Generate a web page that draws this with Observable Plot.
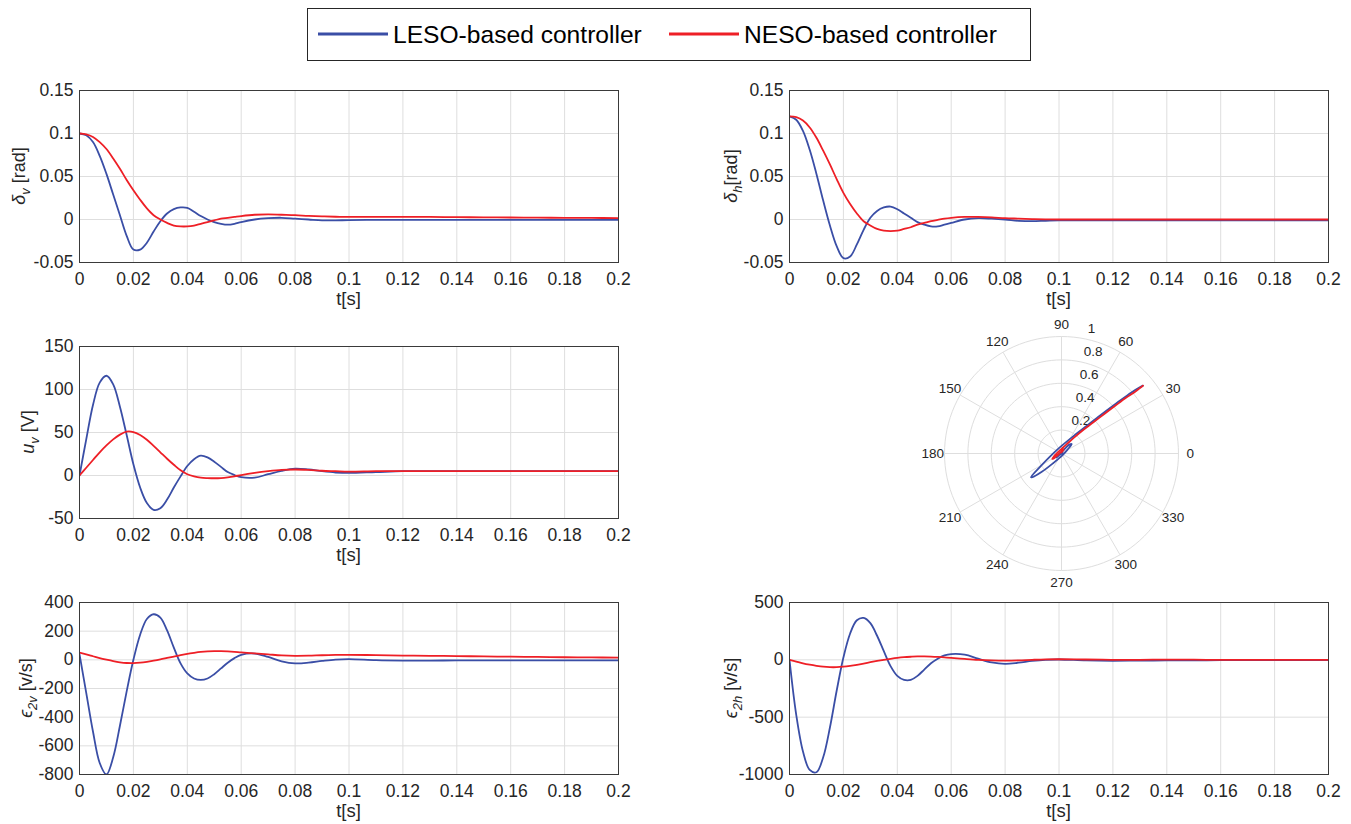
<!DOCTYPE html>
<html><head><meta charset="utf-8">
<script src="https://cdn.jsdelivr.net/npm/d3@7"></script>
<script src="https://cdn.jsdelivr.net/npm/@observablehq/plot@0.6"></script>
<style>
html,body{margin:0;padding:0;background:#fff;}
#root{position:relative;width:1351px;height:824px;overflow:hidden;font-family:"Liberation Sans",Arial,Helvetica,sans-serif;}
#root > *{position:absolute;}
</style></head><body><div id="root"></div>
<script>
// ---------- data ----------
const T = [0, 0.0025, 0.005, 0.0075, 0.01, 0.0125, 0.015, 0.0175, 0.02, 0.0225, 0.025, 0.0275, 0.03,
  0.0325, 0.035, 0.0375, 0.04, 0.0425, 0.045, 0.0475, 0.05, 0.0525, 0.055, 0.0575, 0.06,
  0.065, 0.07, 0.075, 0.08, 0.085, 0.09, 0.095, 0.1,
  0.11, 0.12, 0.13, 0.14, 0.15, 0.16, 0.17, 0.18, 0.19, 0.2];
const xTicks = [0, 0.02, 0.04, 0.06, 0.08, 0.1, 0.12, 0.14, 0.16, 0.18, 0.2];
const seriesNames = ["LESO-based controller", "NESO-based controller"];

// delta_v [rad]
const dvL = [0.1, 0.098, 0.09, 0.074, 0.053, 0.029, 0.005, -0.019, -0.035, -0.035, -0.027, -0.014, -0.002,
  0.007, 0.012, 0.014, 0.0135, 0.009, 0.004, 0.000, -0.003, -0.005, -0.006, -0.005, -0.003,
  0.000, 0.0015, 0.002, 0.001, 0.000, -0.001, -0.001, -0.0007,
  -0.0005, -0.0005, -0.0005, -0.0005, -0.0005, -0.0005, -0.0005, -0.0005, -0.0005, -0.0005];
const dvN = [0.1, 0.099, 0.096, 0.09, 0.082, 0.071, 0.059, 0.046, 0.034, 0.023, 0.013, 0.005, 0.000,
  -0.004, -0.007, -0.008, -0.008, -0.007, -0.005, -0.003, -0.001, 0.001, 0.002, 0.003, 0.004,
  0.0055, 0.006, 0.0055, 0.005, 0.0042, 0.0036, 0.0032, 0.003,
  0.003, 0.003, 0.003, 0.0027, 0.0025, 0.0023, 0.0021, 0.002, 0.0018, 0.0016];
const dvTicks = [-0.05, 0, 0.05, 0.1, 0.15];

// delta_h [rad]
const dhL = [0.12, 0.116, 0.103, 0.081, 0.053, 0.022, -0.007, -0.031, -0.045, -0.043, -0.029, -0.012, 0.002,
  0.010, 0.014, 0.015, 0.012, 0.007, 0.002, -0.003, -0.006, -0.008, -0.008, -0.006, -0.004,
  0.000, 0.0015, 0.001, 0.000, -0.0015, -0.002, -0.0015, -0.001,
  -0.001, -0.001, -0.001, -0.001, -0.001, -0.001, -0.001, -0.001, -0.001, -0.001];
const dhN = [0.12, 0.119, 0.115, 0.107, 0.095, 0.08, 0.064, 0.047, 0.031, 0.018, 0.007, -0.002, -0.007,
  -0.011, -0.013, -0.0135, -0.013, -0.011, -0.009, -0.006, -0.004, -0.002, -0.0005, 0.001, 0.002,
  0.003, 0.003, 0.0025, 0.0015, 0.001, 0.0005, 0.0002, 0,
  0, 0, 0, 0, 0, 0, 0, 0, 0, 0];
const dhTicks = [-0.05, 0, 0.05, 0.1, 0.15];

// u_v [V]
const uL = [0, 42, 82, 108, 116, 106, 80, 47, 13, -14, -32, -40, -38,
  -28, -14, -1, 11, 19, 23, 21, 16, 10, 4, 0.5, -2,
  -2.5, 1.5, 5.5, 8, 7, 5, 3.5, 3,
  4, 5, 5, 5, 5, 5, 5, 5, 5, 5];
const uN = [0, 9, 18, 27, 35, 42, 47.5, 51, 50.5, 47, 41.5, 34.5, 27,
  19.5, 12.5, 6, 1.5, -1, -2.5, -3, -3.2, -3, -2.2, -1, 0.5,
  3, 5, 6.5, 7, 6.5, 5.5, 5, 4.5,
  5, 5, 5, 5, 5, 5, 5, 5, 5, 5];
const uTicks = [-50, 0, 50, 100, 150];

// epsilon_2v [v/s]
const e2vL = [40, -230, -500, -720, -800, -680, -460, -220, 0, 175, 285, 318, 295,
  205, 85, -25, -95, -130, -140, -130, -100, -60, -20, 12, 35,
  44, 20, -10, -25, -20, -8, 2, 5,
  -2, -5, -5, -4, -4, -4, -4, -4, -4, -4];
const e2vN = [50, 38, 25, 12, 1, -9, -17, -22, -23, -20, -14, -6, 3,
  13, 23, 33, 42, 49, 55, 59, 61, 61, 59, 56, 52,
  45, 38, 31, 28, 29, 32, 34, 35,
  33, 30, 28, 26, 24, 22, 20, 18, 17, 15];
const e2vTicks = [-800, -600, -400, -200, 0, 200, 400];

// epsilon_2h [v/s]
const e2hL = [0, -480, -800, -960, -980, -850, -590, -270, 20, 230, 345, 365, 320,
  210, 75, -55, -140, -175, -175, -140, -85, -30, 10, 38, 50,
  45, 10, -22, -35, -25, -10, 0, 3,
  -5, -8, -7, -5, -4, -3, -3, -3, -3, -3];
const e2hN = [0, -15, -30, -42, -52, -60, -64, -64, -60, -53, -44, -33, -21,
  -10, 0, 9, 17, 23, 27, 30, 30, 28, 25, 21, 17,
  8, 0, -5, -7, -5, 0, 4, 5,
  3, 0, 0, 2, 1, 0, 0, 0, 0, 0];
const e2hTicks = [-1000, -500, 0, 500];

// polar panel: (delta_h, delta_v) phase trajectory, radial unit factor
const polarUnit = 5.8;
const polarRings = [0.2, 0.4, 0.6, 0.8, 1];
const polarAngles = [0, 30, 60, 90, 120, 150, 180, 210, 240, 270, 300, 330];

// ---------- drawing ----------
const root = document.getElementById("root");
const FONT = '"Liberation Sans", Arial, Helvetica, sans-serif';
const INK = "#262626";
const BLUE = "#3a4ea6", RED = "#ee1f26";
const GRID = "#dedede";

const series = vals => T.map((t, i) => ({t, v: vals[i]}));

function addYLabel(svg, x, y, parts) {
  const g = d3.select(svg).append("text")
    .attr("transform", `translate(${x},${y}) rotate(-90)`)
    .attr("text-anchor", "middle")
    .attr("font-family", FONT)
    .attr("font-size", 18)
    .attr("fill", INK);
  for (const [txt, kind] of parts) {
    const s = g.append("tspan").text(txt);
    if (kind === "i") s.attr("font-style", "italic");
    if (kind === "sub") s.attr("font-size", 13).attr("font-style", "italic").attr("dy", 5);
    if (kind === "up") s.attr("dy", -5);
  }
}

function panel({left, width, frameLeft, frameRight, frameTop, yDomain, yTicks, L, N, ylabel, labelX}) {
  const mt = 16, mb = 58, fh = 172;
  const height = mt + fh + mb;
  const ml = frameLeft - left, mr = width - (frameRight - left);
  const fmt = d => String(d);
  const p = Plot.plot({
    width, height, marginLeft: ml, marginRight: mr, marginTop: mt, marginBottom: mb,
    style: {fontFamily: FONT, fontSize: "17.5px", color: INK, background: "transparent", overflow: "visible"},
    x: {domain: [0, 0.2]},
    y: {domain: yDomain},
    marks: [
      Plot.gridX(xTicks, {stroke: GRID, strokeOpacity: 1}),
      Plot.gridY(yTicks, {stroke: GRID, strokeOpacity: 1}),
      Plot.axisX(xTicks, {tickSize: 0, tickPadding: 10, tickFormat: fmt, label: null, fontSize: 17.5}),
      Plot.axisY(yTicks, {tickSize: 0, tickPadding: 6, tickFormat: fmt, label: null, fontSize: 17.5}),
      Plot.line(series(L), {x: "t", y: "v", stroke: BLUE, strokeWidth: 1.8, curve: "catmull-rom", clip: true}),
      Plot.line(series(N), {x: "t", y: "v", stroke: RED, strokeWidth: 1.8, curve: "catmull-rom", clip: true}),
      Plot.frame({stroke: "#3a3a3a", strokeWidth: 1})
    ]
  });
  p.style.left = left + "px";
  p.style.top = (frameTop - mt) + "px";
  root.appendChild(p);
  d3.select(p).append("text")
    .attr("x", ml + (frameRight - frameLeft) / 2)
    .attr("y", mt + fh + 43)
    .attr("text-anchor", "middle")
    .attr("font-family", FONT).attr("font-size", 18.5).attr("fill", INK)
    .text("t[s]");
  addYLabel(p, labelX - left, mt + fh / 2, ylabel);
}

// Legend
(function legend() {
  const w = 724, h = 53;
  const svg = d3.create("svg").attr("width", w).attr("height", h)
    .style("left", "307px").style("top", "8px");
  svg.append("rect").attr("x", 0.5).attr("y", 0.5).attr("width", w - 1).attr("height", h - 1)
    .attr("fill", "#fff").attr("stroke", INK).attr("stroke-width", 1);
  const items = [{x: 11, c: BLUE, t: seriesNames[0]}, {x: 362, c: RED, t: seriesNames[1]}];
  for (const it of items) {
    svg.append("line").attr("x1", it.x).attr("x2", it.x + 70).attr("y1", 26).attr("y2", 26)
      .attr("stroke", it.c).attr("stroke-width", 3);
    svg.append("text").attr("x", it.x + 75).attr("y", 34.5)
      .attr("font-family", FONT).attr("font-size", 24.6).attr("fill", "#000").text(it.t);
  }
  root.appendChild(svg.node());
})();

panel({left: 0, width: 650, frameLeft: 79, frameRight: 618, frameTop: 90, yDomain: [-0.05, 0.15], yTicks: dvTicks,
  L: dvL, N: dvN, ylabel: [["δ", "i"], ["v", "sub"], [" [rad]", "up"]], labelX: 25});
panel({left: 700, width: 651, frameLeft: 789, frameRight: 1328, frameTop: 90, yDomain: [-0.05, 0.15], yTicks: dhTicks,
  L: dhL, N: dhN, ylabel: [["δ", "i"], ["h", "sub"], ["[rad]", "up"]], labelX: 737});
panel({left: 0, width: 650, frameLeft: 79, frameRight: 618, frameTop: 346, yDomain: [-50, 150], yTicks: uTicks,
  L: uL, N: uN, ylabel: [["u", "i"], ["v", "sub"], [" [V]", "up"]], labelX: 34});
panel({left: 0, width: 650, frameLeft: 79, frameRight: 618, frameTop: 602, yDomain: [-800, 400], yTicks: e2vTicks,
  L: e2vL, N: e2vN, ylabel: [["ϵ", "i"], ["2v", "sub"], [" [v/s]", "up"]], labelX: 32});
panel({left: 700, width: 651, frameLeft: 789, frameRight: 1328, frameTop: 602, yDomain: [-1000, 500], yTicks: e2hTicks,
  L: e2hL, N: e2hN, ylabel: [["ϵ", "i"], ["2h", "sub"], [" [v/s]", "up"]], labelX: 737});

// Polar panel
(function polar() {
  const size = 300, m = 33;
  const rad = a => a * Math.PI / 180;
  const ringPts = polarRings.flatMap(r => d3.range(0, 361, 3).map(a => ({r, x: r * Math.cos(rad(a)), y: r * Math.sin(rad(a))})));
  const phase = (H, V) => T.map((t, i) => ({x: H[i] * polarUnit, y: V[i] * polarUnit}));
  const p = Plot.plot({
    width: size, height: size, marginLeft: m, marginRight: m, marginTop: m, marginBottom: m,
    style: {fontFamily: FONT, fontSize: "13.5px", color: INK, background: "transparent", overflow: "visible"},
    x: {domain: [-1, 1], axis: null},
    y: {domain: [-1, 1], axis: null},
    marks: [
      Plot.line(ringPts, {x: "x", y: "y", z: "r", stroke: GRID, strokeWidth: 1}),
      Plot.link(polarAngles, {x1: 0, y1: 0, x2: a => Math.cos(rad(a)), y2: a => Math.sin(rad(a)), stroke: GRID, strokeWidth: 1}),
      Plot.text(polarAngles, {x: a => 1.1 * Math.cos(rad(a)), y: a => 1.1 * Math.sin(rad(a)), text: a => String(a), fill: INK, fontSize: 13.5}),
      Plot.text(polarRings, {x: r => r * Math.cos(rad(80)), y: r => r * Math.sin(rad(80)), text: r => String(r),
        textAnchor: "start", dx: 6, dy: -10, fill: INK, fontSize: 13.5}),
      Plot.line(phase(dhL, dvL), {x: "x", y: "y", stroke: BLUE, strokeWidth: 1.8, curve: "catmull-rom"}),
      Plot.line(phase(dhN, dvN), {x: "x", y: "y", stroke: RED, strokeWidth: 1.8, curve: "catmull-rom"})
    ]
  });
  p.style.left = (1061 - size / 2) + "px";
  p.style.top = (453 - size / 2) + "px";
  root.appendChild(p);
})();
</script></body></html>
